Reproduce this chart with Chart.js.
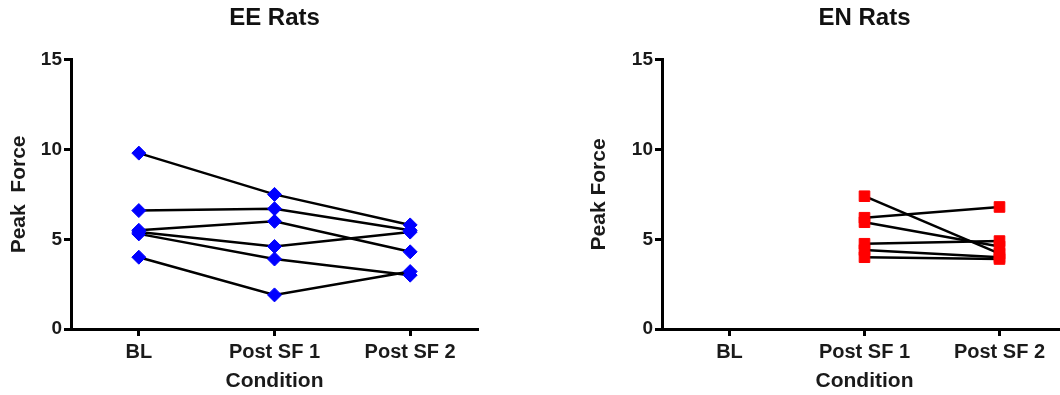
<!DOCTYPE html>
<html>
<head>
<meta charset="utf-8">
<script src="https://cdn.jsdelivr.net/npm/chart.js@4/dist/chart.umd.min.js"></script>
<style>
    html, body { margin: 0; padding: 0; background: #fff; overflow: hidden; }
    #wrap { position: relative; width: 1060px; height: 395px; overflow: hidden; }
    #eeChart { position: absolute; left: 0; top: 0; }
    #enChart { position: absolute; left: 530px; top: 0; }
</style>
</head>
<body>
<div id="wrap">
    <canvas id="eeChart" width="530" height="395"></canvas>
    <canvas id="enChart" width="560" height="395"></canvas>
</div>
<script>
// Conditions on the x axis
const categories = ['BL', 'Post SF 1', 'Post SF 2'];
const yTicks = [0, 5, 10, 15];

// EE rats, one array per animal (BL, Post SF 1, Post SF 2)
const eeRat1 = [9.8, 7.5, 5.8];
const eeRat2 = [6.6, 6.7, 5.5];
const eeRat3 = [5.5, 6.0, 4.3];
const eeRat4 = [5.4, 4.6, 5.4];
const eeRat5 = [5.3, 3.9, 3.0];
const eeRat6 = [4.0, 1.9, 3.2];

// EN rats, no baseline measured
const enRat1 = [null, 7.4, 4.2];
const enRat2 = [null, 6.2, 6.8];
const enRat3 = [null, 5.95, 4.6];
const enRat4 = [null, 4.75, 4.9];
const enRat5 = [null, 4.4, 4.0];
const enRat6 = [null, 4.0, 3.9];

const FONT = "'Liberation Sans', Arial, sans-serif";

document.addEventListener('DOMContentLoaded', function() {
    createPairedChart('eeChart', 'EE Rats', 'Peak  Force',
        [eeRat1, eeRat2, eeRat3, eeRat4, eeRat5, eeRat6],
        { color: '#0000ff', style: 'rectRot', radius: 7 },
        { yWidth: 71, padRight: 52, yTitlePad: 7 });
    createPairedChart('enChart', 'EN Rats', 'Peak Force',
        [enRat1, enRat2, enRat3, enRat4, enRat5, enRat6],
        { color: '#ff0000', style: 'rect', radius: 7.5 },
        { yWidth: 132, padRight: 23, yTitlePad: 57 });
});

/**
 * Build one before/after line chart
 */
function createPairedChart(canvasId, title, yTitle, series, marker, box) {
    const ctx = document.getElementById(canvasId);
    if (!ctx) return;

    const datasets = series.map(function(values) {
        return {
            data: values,
            borderColor: '#000',
            borderWidth: 2.5,
            pointStyle: marker.style,
            pointRadius: marker.radius,
            pointBackgroundColor: marker.color,
            pointBorderColor: marker.color,
            pointBorderWidth: 1,
            tension: 0,
            spanGaps: false
        };
    });

    return new Chart(ctx, {
        type: 'line',
        data: { labels: categories, datasets: datasets },
        options: {
            responsive: false,
            animation: false,
            layout: { padding: { left: 0, right: box.padRight, top: 0, bottom: 0 } },
            plugins: {
                legend: { display: false },
                tooltip: { enabled: false },
                title: {
                    display: true,
                    text: title,
                    fullSize: false,
                    color: '#111',
                    font: { family: FONT, size: 24, weight: 'bold' },
                    padding: { top: 4, bottom: 27 }
                }
            },
            scales: {
                x: {
                    type: 'category',
                    offset: true,
                    border: { display: true, color: '#000', width: 3 },
                    grid: {
                        display: true,
                        drawOnChartArea: false,
                        drawTicks: true,
                        tickLength: 7,
                        tickWidth: 3,
                        tickColor: '#000'
                    },
                    ticks: {
                        color: '#1a1a1a',
                        padding: 4,
                        maxRotation: 0,
                        font: { family: FONT, size: 20, weight: 'bold' }
                    },
                    title: {
                        display: true,
                        text: 'Condition',
                        color: '#1a1a1a',
                        padding: { top: 0, bottom: 1 },
                        font: { family: FONT, size: 21, weight: 'bold' }
                    },
                    afterFit: function(scale) { scale.height = 66; }
                },
                y: {
                    min: 0,
                    max: 15,
                    border: { display: true, color: '#000', width: 3 },
                    grid: {
                        display: true,
                        drawOnChartArea: false,
                        drawTicks: true,
                        tickLength: 7,
                        tickWidth: 3,
                        tickColor: '#000'
                    },
                    afterBuildTicks: function(scale) {
                        scale.ticks = yTicks.map(function(v) { return { value: v }; });
                    },
                    ticks: {
                        color: '#1a1a1a',
                        padding: 2,
                        font: { family: FONT, size: 19, weight: 'bold' }
                    },
                    title: {
                        display: true,
                        text: yTitle,
                        color: '#1a1a1a',
                        padding: { top: box.yTitlePad, bottom: 0 },
                        font: { family: FONT, size: 21, weight: 'bold' }
                    },
                    afterFit: function(scale) { scale.width = box.yWidth; }
                }
            }
        }
    });
}
</script>
</body>
</html>
